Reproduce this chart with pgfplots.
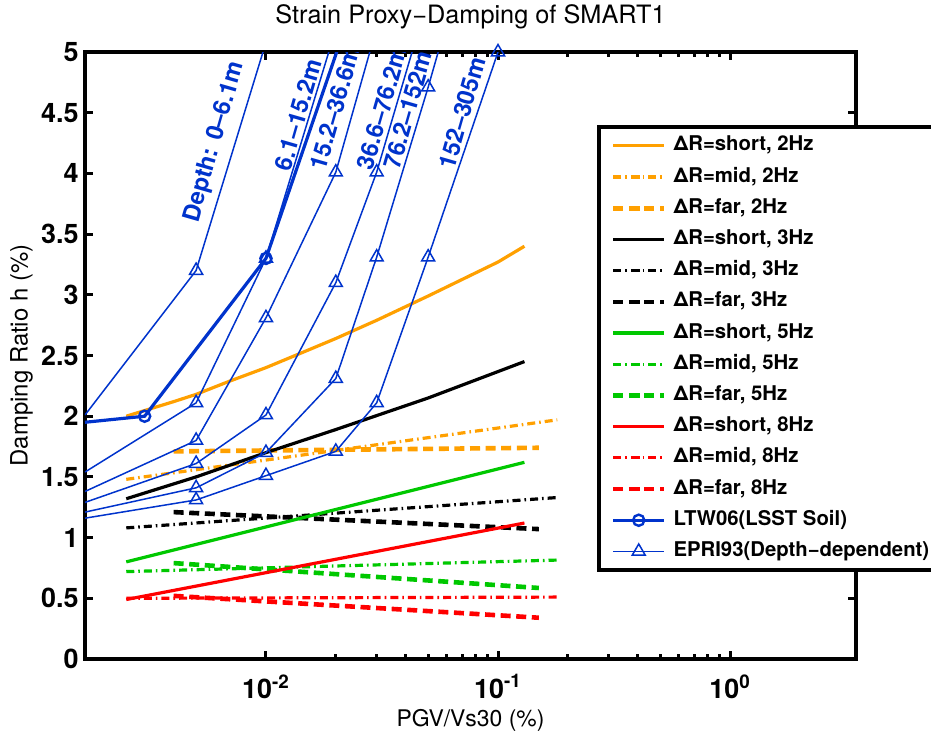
\documentclass[border=0pt]{standalone}
\usepackage{pgfplots}
\pgfplotsset{compat=1.18}
\usepackage{fontspec}
\setmainfont{TeX Gyre Heros}

\definecolor{morange}{RGB}{255,160,0}
\definecolor{mgreen}{RGB}{0,200,0}
\definecolor{mred}{RGB}{255,0,0}
\definecolor{mblue}{RGB}{0,51,204}

\tikzset{
  shortline/.style={line width=1.6bp, solid},
  midline/.style={line width=1.6bp, dash pattern=on 4bp off 2bp on 0.8bp off 2bp},
  farline/.style={line width=2.3bp, dash pattern=on 5bp off 2.8bp},
  epri/.style={mblue, line width=0.75bp, mark=triangle, mark size=3.75bp,
               mark options={solid, line width=0.75bp}},
  depthlbl/.style={rotate=74, text=mblue, inner sep=0pt,
                   font=\bfseries\fontsize{12}{14}\selectfont},
}

\begin{document}
\begin{tikzpicture}
\begin{axis}[
  name=ax, at={(0,0)}, anchor=south west,
  scale only axis, width=385.5bp, height=303.5bp,
  xmode=log, xmin=0.00166, xmax=3.49,
  ymin=0, ymax=5,
  axis line style={line width=2bp},
  every tick/.style={black, line width=1.5bp},
  major tick length=4bp, minor tick length=2.5bp,
  xtick={0.01,0.1,1},
  xticklabels={10\textsuperscript{-2},10\textsuperscript{-1},10\textsuperscript{0}},
  ytick={0,0.5,1,1.5,2,2.5,3,3.5,4,4.5,5},
  yticklabels={0,0.5,1,1.5,2,2.5,3,3.5,4,4.5,5},
  ticklabel style={font=\bfseries\fontsize{13.5}{15}\selectfont},
  xticklabel style={inner sep=0pt, anchor=north, yshift=-7.5bp},
  yticklabel style={inner sep=0pt, anchor=east, xshift=-3bp},
  xlabel={PGV/Vs30 (\%)},
  xlabel style={at={(0.5,-0.112)}, anchor=base, inner sep=0pt,
                font=\fontsize{11.5}{13}\selectfont},
  ylabel={Damping Ratio h (\%)},
  ylabel style={at={(-0.0744,0.5)}, anchor=base, inner sep=0pt,
                font=\fontsize{12}{14}\selectfont},
  legend cell align=left,
  legend image code/.code={
    \draw[mark repeat=2, mark phase=2, #1, mark indices={2}]
      plot coordinates {(0bp,0bp) (12.75bp,0bp) (25.5bp,0bp)};},
  legend style={at={(0.664,0.880)}, anchor=north west,
    draw=black, line width=2bp, fill=white,
    inner xsep=6bp, inner ysep=4.5bp, row sep=5.6bp, column sep=3.5bp,
    font=\bfseries\fontsize{10.2}{12}\selectfont,
    nodes={inner sep=0pt, text height=7.5bp, text depth=2.5bp}},
]

% 2 Hz
\addplot[morange, shortline] coordinates {
  (0.0025,2.00) (0.004,2.12) (0.005,2.18) (0.007,2.29) (0.01,2.40)
  (0.015,2.54) (0.02,2.64) (0.03,2.79) (0.05,2.99) (0.08,3.18)
  (0.1,3.27) (0.13,3.40)};
\addlegendentry{ΔR=short, 2Hz}
\addplot[morange, midline] coordinates {(0.0025,1.48) (0.18,1.97)};
\addlegendentry{ΔR=mid, 2Hz}
\addplot[morange, farline] coordinates {(0.004,1.71) (0.15,1.74)};
\addlegendentry{ΔR=far, 2Hz}

% 3 Hz
\addplot[black, shortline] coordinates {
  (0.0025,1.32) (0.005,1.50) (0.01,1.70) (0.02,1.89) (0.05,2.15) (0.13,2.45)};
\addlegendentry{ΔR=short, 3Hz}
\addplot[black, midline] coordinates {(0.0025,1.08) (0.18,1.33)};
\addlegendentry{ΔR=mid, 3Hz}
\addplot[black, farline] coordinates {(0.004,1.21) (0.15,1.07)};
\addlegendentry{ΔR=far, 3Hz}

% 5 Hz
\addplot[mgreen, shortline] coordinates {(0.0025,0.80) (0.13,1.62)};
\addlegendentry{ΔR=short, 5Hz}
\addplot[mgreen, midline] coordinates {(0.0025,0.72) (0.18,0.815)};
\addlegendentry{ΔR=mid, 5Hz}
\addplot[mgreen, farline] coordinates {(0.004,0.79) (0.15,0.585)};
\addlegendentry{ΔR=far, 5Hz}

% 8 Hz
\addplot[mred, shortline] coordinates {(0.0025,0.49) (0.13,1.12)};
\addlegendentry{ΔR=short, 8Hz}
\addplot[mred, midline] coordinates {(0.0025,0.50) (0.18,0.51)};
\addlegendentry{ΔR=mid, 8Hz}
\addplot[mred, farline] coordinates {(0.004,0.52) (0.15,0.34)};
\addlegendentry{ΔR=far, 8Hz}

% LTW06
\addplot[mblue, line width=1.6bp, mark=o, mark size=2.8bp, mark indices={2,3},
         mark options={solid, line width=1.2bp}] coordinates {
  (0.00166,1.95) (0.003,2.0) (0.01,3.3) (0.03,5.96)};
\addlegendentry{LTW06(LSST Soil)}

% EPRI93 depth-dependent curves
\addplot[epri, mark indices={2}] coordinates {
  (0.00166,2.01) (0.005,3.2) (0.01,5.08)};
\addlegendentry{EPRI93(Depth−dependent)}
\addplot[epri, mark indices={2,3}, forget plot] coordinates {
  (0.00166,1.54) (0.005,2.11) (0.01,3.3) (0.02,5.19)};
\addplot[epri, mark indices={2,3,4}, forget plot] coordinates {
  (0.00166,1.38) (0.005,1.80) (0.01,2.81) (0.02,4.01) (0.03,5.2)};
\addplot[epri, mark indices={2,3,4,5}, forget plot] coordinates {
  (0.00166,1.29) (0.005,1.61) (0.01,2.01) (0.02,3.10) (0.03,4.01) (0.05,5.45)};
\addplot[epri, mark indices={2,3,4,5,6}, forget plot] coordinates {
  (0.00166,1.21) (0.005,1.41) (0.01,1.70) (0.02,2.31) (0.03,3.31) (0.05,4.71) (0.1,6.73)};
\addplot[epri, mark indices={2,3,4,5,6,7}, forget plot] coordinates {
  (0.00166,1.16) (0.005,1.31) (0.01,1.51) (0.02,1.71) (0.03,2.11) (0.05,3.31) (0.1,5.0)};

\node[depthlbl] at (axis cs:0.00603,4.26) {Depth: 0–6.1m};
\node[depthlbl] at (axis cs:0.01374,4.48) {6.1–15.2m};
\node[depthlbl] at (axis cs:0.01982,4.54) {15.2–36.6m};
\node[depthlbl] at (axis cs:0.0316,4.54) {36.6–76.2m};
\node[depthlbl] at (axis cs:0.0409,4.52) {76.2–152m};
\node[depthlbl] at (axis cs:0.070,4.50) {152–305m};
\end{axis}
\node[anchor=base, inner sep=0pt, font=\fontsize{12.7}{14}\selectfont]
  at ([yshift=14.5bp]ax.north) {Strain Proxy−Damping of SMART1};
\pgfresetboundingbox
\path (ax.south west) ++(-42.5bp,-38bp) rectangle ++(465.5bp,367.5bp);
\end{tikzpicture}
\end{document}
